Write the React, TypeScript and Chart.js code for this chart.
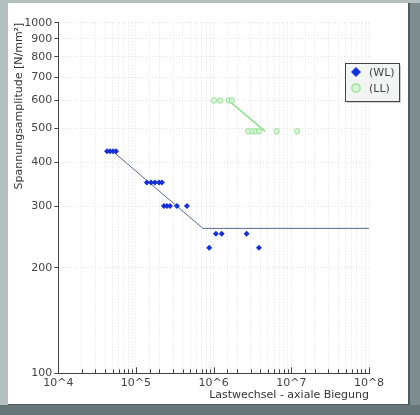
import React, { useEffect, useRef } from "react";
import { Chart, registerables } from "chart.js";

Chart.register(...registerables);

// WL (Wechsellast) test points: load cycles and stress amplitude [N/mm²]
const wlCycles = [42400, 46200, 50600, 55300, 138000, 156000, 175000, 198000, 216000, 229000, 250000, 274000, 337000, 453000, 877000, 1070000, 1270000, 2660000, 3830000];
const wlStress = [430, 430, 430, 430, 350, 350, 350, 350, 350, 300, 300, 300, 300, 300, 228, 250, 250, 250, 228];

// LL test points
const llCycles = [1010000, 1210000, 1570000, 1720000, 2790000, 3140000, 3470000, 3830000, 6470000, 11900000];
const llStress = [600, 600, 600, 600, 490, 490, 490, 490, 490, 490];

// fitted S-N curves
const wlCurveCycles = [50000, 728000, 100000000];
const wlCurveStress = [430, 259, 259];
const llCurveCycles = [1550000, 4600000];
const llCurveStress = [600, 490];

const legendLabels = ["(WL)", "(LL)"];
const xTitle = "Lastwechsel - axiale Biegung";
const yTitle = "Spannungsamplitude [N/mm²]";
const yTickValues = [100, 200, 300, 400, 500, 600, 700, 800, 900, 1000];

const toPts = (xs: number[], ys: number[]) => xs.map((x, i) => ({ x, y: ys[i] }));

const FONT = "'DejaVu Sans', sans-serif";

export default function App() {
  const ref = useRef<HTMLCanvasElement | null>(null);

  useEffect(() => {
    if (!ref.current) return;

    const extras = {
      id: "extras",
      afterDraw(chart: any) {
        const ctx = chart.ctx;
        const xs = chart.scales.x;
        const ca = chart.chartArea;
        ctx.save();
        // x-axis tick marks drawn upward
        ctx.strokeStyle = "#444";
        ctx.lineWidth = 1;
        ctx.setLineDash([]);
        xs.ticks.forEach((t: any) => {
          const px = Math.round(xs.getPixelForValue(t.value)) + 0.5;
          const major = Math.abs(Math.log10(t.value) - Math.round(Math.log10(t.value))) < 1e-9;
          ctx.beginPath();
          ctx.moveTo(px, ca.bottom);
          ctx.lineTo(px, ca.bottom - (major ? 6 : 4));
          ctx.stroke();
        });
        // legend box
        const bx = 337, by = 60, bw = 54, bh = 38;
        ctx.fillStyle = "rgba(120,120,120,0.35)";
        ctx.fillRect(bx + 2, by + 2, bw, bh);
        ctx.fillStyle = "#f3f5f5";
        ctx.fillRect(bx, by, bw, bh);
        ctx.strokeStyle = "#444";
        ctx.strokeRect(bx + 0.5, by + 0.5, bw, bh);
        // diamond
        ctx.fillStyle = "#1530e0";
        ctx.beginPath();
        ctx.moveTo(348, 64); ctx.lineTo(353, 69); ctx.lineTo(348, 74); ctx.lineTo(343, 69);
        ctx.closePath();
        ctx.fill();
        // circle
        ctx.fillStyle = "#d8f6d8";
        ctx.strokeStyle = "#8fe28f";
        ctx.lineWidth = 1.2;
        ctx.beginPath();
        ctx.arc(348, 85, 4.2, 0, Math.PI * 2);
        ctx.fill();
        ctx.stroke();
        ctx.fillStyle = "#444";
        ctx.font = "11px " + FONT;
        ctx.textBaseline = "middle";
        ctx.textAlign = "left";
        ctx.fillText(legendLabels[0], 361, 70);
        ctx.fillText(legendLabels[1], 361, 86);
        ctx.restore();
      },
    };

    const chart = new Chart(ref.current, {
      type: "scatter",
      data: {
        datasets: [
          {
            label: "WL curve",
            data: toPts(wlCurveCycles, wlCurveStress),
            showLine: true,
            borderColor: "#5a6896",
            borderWidth: 1,
            pointRadius: 0,
            order: 3,
          },
          {
            label: "LL curve",
            data: toPts(llCurveCycles, llCurveStress),
            showLine: true,
            borderColor: "#86e086",
            borderWidth: 1.5,
            pointRadius: 0,
            order: 3,
          },
          {
            label: legendLabels[0],
            data: toPts(wlCycles, wlStress),
            pointStyle: "rectRot",
            pointRadius: 3,
            backgroundColor: "#1530d8",
            borderColor: "#1530d8",
            borderWidth: 0,
            order: 1,
          },
          {
            label: legendLabels[1],
            data: toPts(llCycles, llStress),
            pointStyle: "circle",
            pointRadius: 2.7,
            backgroundColor: "rgba(215,246,215,0.8)",
            borderColor: "#90e490",
            borderWidth: 1,
            order: 2,
          },
        ],
      },
      options: {
        animation: false,
        responsive: false,
        maintainAspectRatio: false,
        layout: { padding: { top: 19.7, right: 39, left: 0, bottom: 0 } },
        plugins: { legend: { display: false }, tooltip: { enabled: false } },
        scales: {
          x: {
            type: "logarithmic",
            min: 1e4,
            max: 1e8,
            afterFit: (s: any) => {
              s.height = 30.7;
            },
            border: { display: true, color: "#444", width: 1, dash: [1, 2] },
            grid: {
              color: "#e2e2e2",
              drawTicks: false,
              lineWidth: 1,
            },
            ticks: {
              autoSkip: false,
              maxRotation: 0,
              padding: 3,
              color: "#444",
              font: { family: FONT, size: 11 },
              callback: (v: any) => {
                const l = Math.log10(Number(v));
                return Math.abs(l - Math.round(l)) < 1e-9 ? "10^" + Math.round(l) : "";
              },
            },
            title: {
              display: true,
              text: xTitle,
              align: "end",
              color: "#333",
              font: { family: FONT, size: 11 },
              padding: { top: 0, bottom: 2.5 },
            },
          },
          y: {
            type: "logarithmic",
            min: 100,
            max: 1000,
            afterFit: (s: any) => {
              s.width = 50.3;
            },
            afterBuildTicks: (s: any) => {
              s.ticks = yTickValues.map((v) => ({ value: v }));
            },
            border: { display: true, color: "#444", width: 1, dash: [1, 2] },
            grid: {
              color: "#e2e2e2",
              drawTicks: true,
              tickLength: 4,
              tickColor: "#444",
            },
            ticks: {
              autoSkip: false,
              padding: 2,
              color: "#444",
              font: { family: FONT, size: 11 },
              callback: (v: any) => String(v),
            },
            title: {
              display: true,
              text: yTitle,
              align: "end",
              color: "#333",
              font: { family: FONT, size: 11 },
              padding: { top: 5, bottom: 0 },
            },
          },
        },
      },
      plugins: [extras],
    } as any);

    return () => chart.destroy();
  }, []);

  return (
    <div
      style={{
        position: "fixed",
        left: 0,
        top: 0,
        width: 420,
        height: 415,
        background: "#7d8c8c",
        overflow: "hidden",
      }}
    >
      <div style={{ position: "absolute", left: 0, top: 0, width: 8, height: 405, background: "#b4c0c0" }} />
      <div style={{ position: "absolute", left: 0, top: 0, width: 420, height: 3, background: "#b4c0c0" }} />
      <div style={{ position: "absolute", left: 0, top: 405, width: 420, height: 10, background: "#667575" }} />
      <div
        style={{
          position: "absolute",
          left: 8,
          top: 3,
          width: 400,
          height: 401,
          background: "#ffffff",
          borderRight: "2px solid #4f5c5c",
          borderBottom: "1px solid #4f5c5c",
        }}
      >
        <canvas ref={ref} width={400} height={401} style={{ display: "block", width: 400, height: 401 }} />
      </div>
    </div>
  );
}
